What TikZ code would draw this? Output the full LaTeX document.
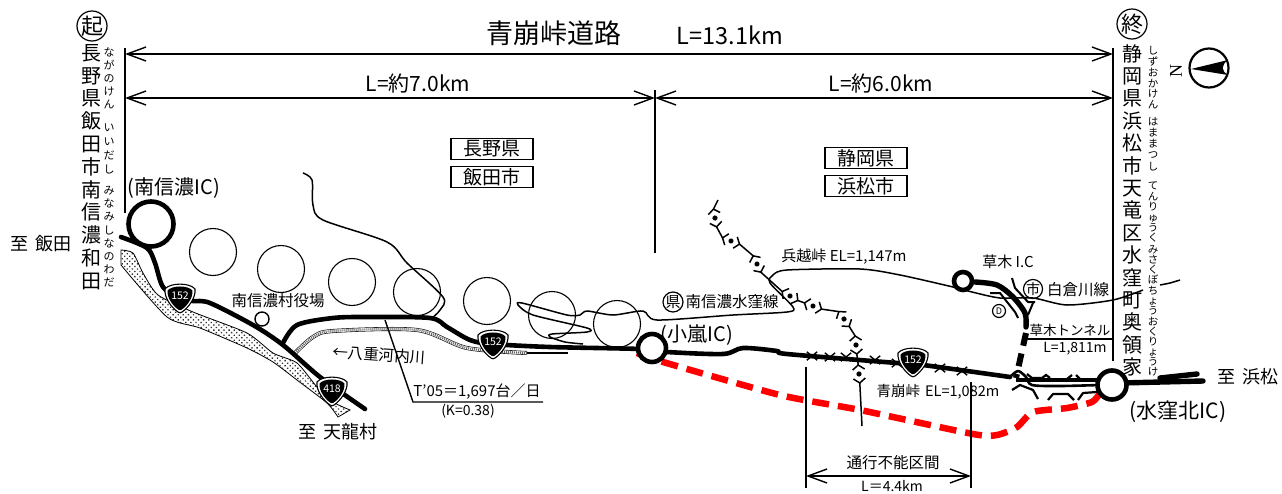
\documentclass[tikz,border=0pt]{standalone}
\usepackage{fontspec}
\setmainfont{Noto Sans CJK JP}
\newfontfamily\nfont{Liberation Serif}
\usetikzlibrary{arrows.meta,patterns,patterns.meta,shapes.geometric,shapes.misc}
\newcommand{\fs}[1]{\fontsize{#1}{#1}\selectfont}
\tikzset{
  dim/.style={line width=1.4pt,{Straight Barb[length=19pt,width=14pt]}-{Straight Barb[length=19pt,width=14pt]}},
  ref/.style={line width=1.4pt},
  thin line/.style={line width=1.5pt,line join=round},
  road/.style={line width=4.6pt,line join=round,line cap=round},
  bigroad/.style={line width=5.4pt,line join=round,line cap=round},
  red route/.style={line width=6.5pt,red,dash pattern=on 17pt off 9pt},
  tunnel/.style={line width=6pt,dash pattern=on 13pt off 8pt},
  hill/.style={circle,draw,line width=1.1pt,minimum size=47pt,inner sep=0},
  ic/.style={circle,draw,fill=white,line width=4.6pt,inner sep=0},
  tag/.style={draw,line width=1.4pt,minimum width=82pt,minimum height=21pt,inner sep=0,font=\fs{19}},
  lab/.style={inner sep=0,font=\fs{15.5}},
  ringed/.style={circle,draw,line width=1.2pt,inner sep=0,font=\fs{#1}},
  vert/.style 2 args={inner sep=0,anchor=north,align=center,font=\fontsize{#1}{#2}\selectfont},
  xmark/.style={cross out,draw,line width=1.4pt,minimum width=9pt,minimum height=7pt,inner sep=0},
  stipple/.style={line width=.8pt,pattern={Dots[distance=3.6pt,radius=.95pt,angle=45]},pattern color=black!80},
}
\newcommand{\shield}[4]{%
  \begin{scope}[shift={(#2,#3)}]
    \draw[fill=white,line width=1.1pt] (-15,-9) .. controls (-10,-15.5) and (10,-15.5) .. (15,-9) .. controls (16,0) and (8,10) .. (2,14) .. controls (1,15) and (-1,15) .. (-2,14) .. controls (-8,10) and (-16,0) .. (-15,-9) -- cycle;
    \fill[black,scale=.83] (-15,-9) .. controls (-10,-15.5) and (10,-15.5) .. (15,-9) .. controls (16,0) and (8,10) .. (2,14) .. controls (1,15) and (-1,15) .. (-2,14) .. controls (-8,10) and (-16,0) .. (-15,-9) -- cycle;
    \node[inner sep=0,text=white,font=\fs{10.5}] (#1) at (0,-2) {#4};
  \end{scope}}
\newcommand{\ridge}[4]{%
  \begin{scope}[shift={(#2,#3)},rotate=#4]
    \fill (0,0) circle (2.6pt);
    \draw[line width=1.5pt] (-4.5,-6) -- (-9,0) -- (-4.5,6) (4.5,-6) -- (9,0) -- (4.5,6);
    \coordinate (#1a) at (-9,0);
    \coordinate (#1b) at (9,0);
  \end{scope}}
\begin{document}
\begin{tikzpicture}[x=1pt,y=-1pt]
\useasboundingbox (0,0) rectangle (1282,493);

% dimension frame
\coordinate (L0) at (125,48); \coordinate (L1) at (125,213);
\coordinate (R0) at (1113,48); \coordinate (R1) at (1113,361);
\coordinate (M0) at (655,90); \coordinate (M1) at (655,253);
\draw[ref] (L0)--(L1) (R0)--(R1) (M0)--(M1);
\draw[dim] (125,54)--(1113,54);
\draw[dim] (125,98)--(655,98);
\draw[dim] (655,98)--(1113,98);

\node[inner sep=0,font=\fs{27}] (title) at (554,33) {青崩峠道路};
\node[inner sep=0,font=\fs{23.5}] (tl) at (730,35) {L=13.1km};
\node[inner sep=0,font=\fs{21}] (l7) at (418,84) {L=約7.0km};
\node[inner sep=0,font=\fs{21}] (l6) at (881,84) {L=約6.0km};

\node[tag] (t1) at (492,149) {長野県};
\node[tag] (t2) at (492,177) {飯田市};
\node[tag] (t3) at (866,158) {静岡県};
\node[tag] (t4) at (866,186) {浜松市};

% start and end
\node[ringed=22,minimum size=30pt] (ki) at (92,26) {起};
\node[ringed=22,minimum size=30pt] (ow) at (1132,24) {終};
\node[vert={20}{22.8}] (lv) at (91,44) {長\\野\\県\\飯\\田\\市\\南\\信\\濃\\和\\田};
\node[vert={20}{22.4}] (rv) at (1132,44) {静\\岡\\県\\浜\\松\\市\\天\\竜\\区\\水\\窪\\町\\奥\\領\\家};
\node[vert={11}{13.2}] (k1) at (109,47) {な\\が\\の\\け\\ん};
\node[vert={11}{13.8}] (k2) at (109,124) {い\\い\\だ\\し};
\node[vert={11}{13.2}] (k3) at (109,186) {み\\な\\み\\し\\な\\の\\わ\\だ};
\node[vert={10.5}{10.9}] (k4) at (1153,46) {し\\ず\\お\\か\\け\\ん};
\node[vert={10.5}{11.2}] (k5) at (1153,117) {は\\ま\\ま\\つ\\し};
\node[vert={10.5}{10.4}] (k6) at (1153,182) {て\\ん\\り\\ゅ\\う\\く};
\node[vert={10.5}{10.3}] (k7) at (1153,245) {み\\さ\\く\\ぼ\\ち\\ょ\\う};
\node[vert={10.5}{9.9}] (k8) at (1153,317) {お\\く\\り\\ょ\\う\\け};

% north symbol
\node[circle,draw,line width=2.2pt,minimum size=39pt,inner sep=0] (north) at (1209,68) {};
\fill (1191,69) -- (1228,60) .. controls (1221,65) and (1221,71) .. (1228,75) -- cycle;
\node[rotate=90,inner sep=0,font=\nfont\fs{18}] (nn) at (1176,71) {N};

% river
\draw[stipple] plot[smooth,tension=.4] coordinates {(121,250)(133,253)(143,273)(158,295)(193,312)(247,333)(273,353)(297,363)(317,387)(333,402)(350,410)} -- plot[smooth,tension=.4] coordinates {(338,417)(327,403)(297,380)(273,362)(247,348)(200,328)(167,317)(121,265)} -- cycle;
\draw[line width=4pt] plot[smooth,tension=.5] coordinates {(295,353)(313,337)(333,331)(417,330)(467,348)(527,353)};
\draw[line width=2.8pt,white] plot[smooth,tension=.5] coordinates {(295,353)(313,337)(333,331)(417,330)(467,348)(527,353)};
\draw[line width=2.2pt,black!60,dash pattern=on 1pt off 1pt] plot[smooth,tension=.5] coordinates {(295,353)(313,337)(333,331)(417,330)(467,348)(527,353)};
\draw[thin line] (527,353)--(568,353);

% hills
\node[hill] (h1) at (213,252) {};
\node[hill] (h2) at (281,269) {};
\node[hill] (h3) at (352,282) {};
\node[hill] (h4) at (417,292) {};
\node[hill] (h5) at (487,301) {};
\node[hill] (h6) at (552,315) {};
\node[hill] (h7) at (617,324) {};

% thin roads
\draw[thin line] plot[smooth,tension=.5] coordinates {(303,173)(312,180)(313,205)(323,220)(387,242)(407,263)(443,297)(440,310)(432,318)};
\draw[thin line] plot[smooth,tension=.45] coordinates {(583,344)(565,342)(550,337)(552,334)(587,332)(587,328)(533,315)(518,305)(522,303)(567,315)(580,315)(587,311)(613,315)(643,311)(657,320)(733,315)(787,312)(793,307)(770,283)(773,275)(787,270)(860,269)(900,275)(953,287)(972,292)(1000,298)(1033,298)(1067,305)(1113,300)(1143,290)};
\draw[thin line] plot[smooth] coordinates {(1160,285)(1170,283)(1180,280)};

% ridge line
\coordinate (r0) at (718,200);
\ridge{m1}{715}{218}{-80}
\ridge{m2}{731}{241}{-20}
\ridge{m3}{757}{264}{-65}
\ridge{m4}{790}{296}{-30}
\ridge{m5}{813}{306}{-20}
\ridge{m6}{844}{319}{-55}
\ridge{m7}{856}{345}{-85}
\ridge{m8}{859}{374}{-85}
\coordinate (r9) at (862,426);
\draw[thin line] (r0)--(m1a) (m1b)--(m2a) (m2b)--(m3a) (m3b)--(m4a) (m4b)--(m5a) (m5b)--(m6a) (m6b)--(m7a) (m7b)--(m8a) (m8b)--(r9);

% red route
\draw[red route] plot[smooth,tension=.4] coordinates {(637,353)(663,362)(780,395)(860,410)(973,434)(997,435)(1017,427)(1033,412)(1067,408)(1092,402)(1100,393)};

% main road
\draw[road] plot[smooth,tension=.5] coordinates {(121,237)(147,248)(155,263)(163,287)(180,298)(193,301)(210,303)(253,325)(283,345)(320,377)(365,409)};
\draw[road] plot[smooth,tension=.5] coordinates {(283,343)(297,325)(333,318)(367,317)(430,318)(447,327)(470,340)(492,344)(550,347)(640,349)(667,352)(723,354)(743,348)(777,351)(787,354)(897,363)(923,365)(1010,377)};
\draw[line width=2.6pt,line join=round] plot[smooth,tension=.5] coordinates {(1010,377)(1018,371)(1026,377)(1032,385)(1060,386)(1100,385)};
\draw[line width=3.4pt] plot[smooth,tension=.5] coordinates {(1016,380)(1028,380)(1060,380)(1100,380)};
\draw[line width=2.2pt] (1027,374)--(1032,378)--(1042,378)--(1046,375)--(1050,378);
\draw[line width=2.2pt] (1067,379)--(1072,375) (1076,375)--(1081,380);
\draw[line width=2.2pt,line join=round] (1012,390)--(1020,385)--(1033,390)--(1038,399);
\draw[line width=2.2pt,line join=round] (1048,400)--(1053,394)--(1068,394)--(1074,400);
\draw[line width=2.2pt,line join=round] (1078,400)--(1083,393)--(1097,392);
\draw[bigroad] (1120,383)--(1203,381);
\draw[bigroad] (1160,378)--(1197,374);

% Kusaki
\draw[bigroad] plot[smooth,tension=.5] coordinates {(975,282)(997,285)(1013,297)(1025,313)(1026,327)};
\draw[tunnel] (1026,333)--(1016,378);
\draw[line width=2pt,line join=round] (990,293)--(1000,293)--(1015,312)--(1018,318);
\draw[line width=2pt,line join=round] (1012,278)--(1015,288)--(1028,302)--(1035,302);
\draw[line width=2pt] (1033,303)--(1028,315);
\draw[ref] (1027,339)--(1112,339);

% traffic leader
\draw[ref] (385,320)--(413,402)--(543,402);

% crosses on the road
\node[xmark] (x1) at (812,356) {};
\node[xmark] (x2) at (830,357) {};
\node[xmark] (x3) at (846,357) {};
\node[xmark] (x4) at (875,360) {};
\node[xmark] (x5) at (897,363) {};
\node[xmark] (x6) at (940,368) {};
\node[xmark] (x7) at (962,371) {};

% interchanges
\node[ic,minimum size=45pt] (ic1) at (151,224) {};
\node[ic,minimum size=28pt] (ic2) at (652,348) {};
\node[ic,minimum size=29pt] (ic3) at (1112,385) {};
\node[ic,minimum size=18pt] (ic4) at (963,281) {};
\node[circle,draw,line width=1.4pt,minimum size=14pt,inner sep=0] (office) at (262,319) {};

% route shields
\shield{s1}{180}{298}{152}
\shield{s2}{493}{344}{152}
\shield{s3}{332}{391}{418}
\shield{s4}{913}{362}{152}

% closed section
\coordinate (c0) at (806,367); \coordinate (c1) at (806,488);
\coordinate (c2) at (971,382); \coordinate (c3) at (971,488);
\draw[ref] (c0)--(c1) (c2)--(c3);
\draw[dim] (806,476)--(971,476);
\node[lab] (closed) at (893,463) {通行不能区間};
\node[lab,font=\fs{14}] (l44) at (892,486) {L＝4.4km};

% labels
\node[lab,font=\fs{18}] (a1) at (41,244) {至\hspace{7pt}飯田};
\node[lab,font=\fs{20}] (a2) at (174,188) {(南信濃IC)};
\node[lab] (a3) at (278,301) {南信濃村役場};
\node[lab,rotate=-4] (a4) at (379,355) {←八重河内川};
\node[lab,font=\fs{15}] (a5) at (477,392) {T'05＝1,697台／日};
\node[lab,font=\fs{14}] (a6) at (468,411) {(K=0.38)};
\node[lab,font=\fs{18}] (a7) at (338,432) {至\hspace{7pt}天龍村};
\node[lab,font=\fs{20}] (a8) at (697,335) {(小嵐IC)};
\node[ringed=15,minimum size=20pt] (ken) at (673,302) {県};
\node[lab] (a9) at (732,302) {南信濃水窪線};
\node[lab,font=\fs{15}] (a10) at (844,257) {兵越峠 EL=1,147m};
\node[lab,font=\fs{15}] (a11) at (1008,262) {草木 I.C};
\node[ringed=14,minimum size=19pt] (shi) at (1033,289) {市};
\node[lab] (a12) at (1078,290) {白倉川線};
\node[ringed=9,minimum size=13pt] (dd) at (999,311) {D};
\node[lab,font=\fs{13.5}] (a13) at (1070,330) {草木トンネル};
\node[lab,font=\fs{14}] (a14) at (1075,349) {L=1,811m};
\node[lab,font=\fs{18}] (a15) at (1248,377) {至\hspace{7pt}浜松};
\node[lab,font=\fs{21}] (a16) at (1178,412) {(水窪北IC)};
\node[lab,font=\fs{14.5}] (a17) at (938,392) {青崩峠\hspace{5pt}EL=1,082m};
\end{tikzpicture}
\end{document}
